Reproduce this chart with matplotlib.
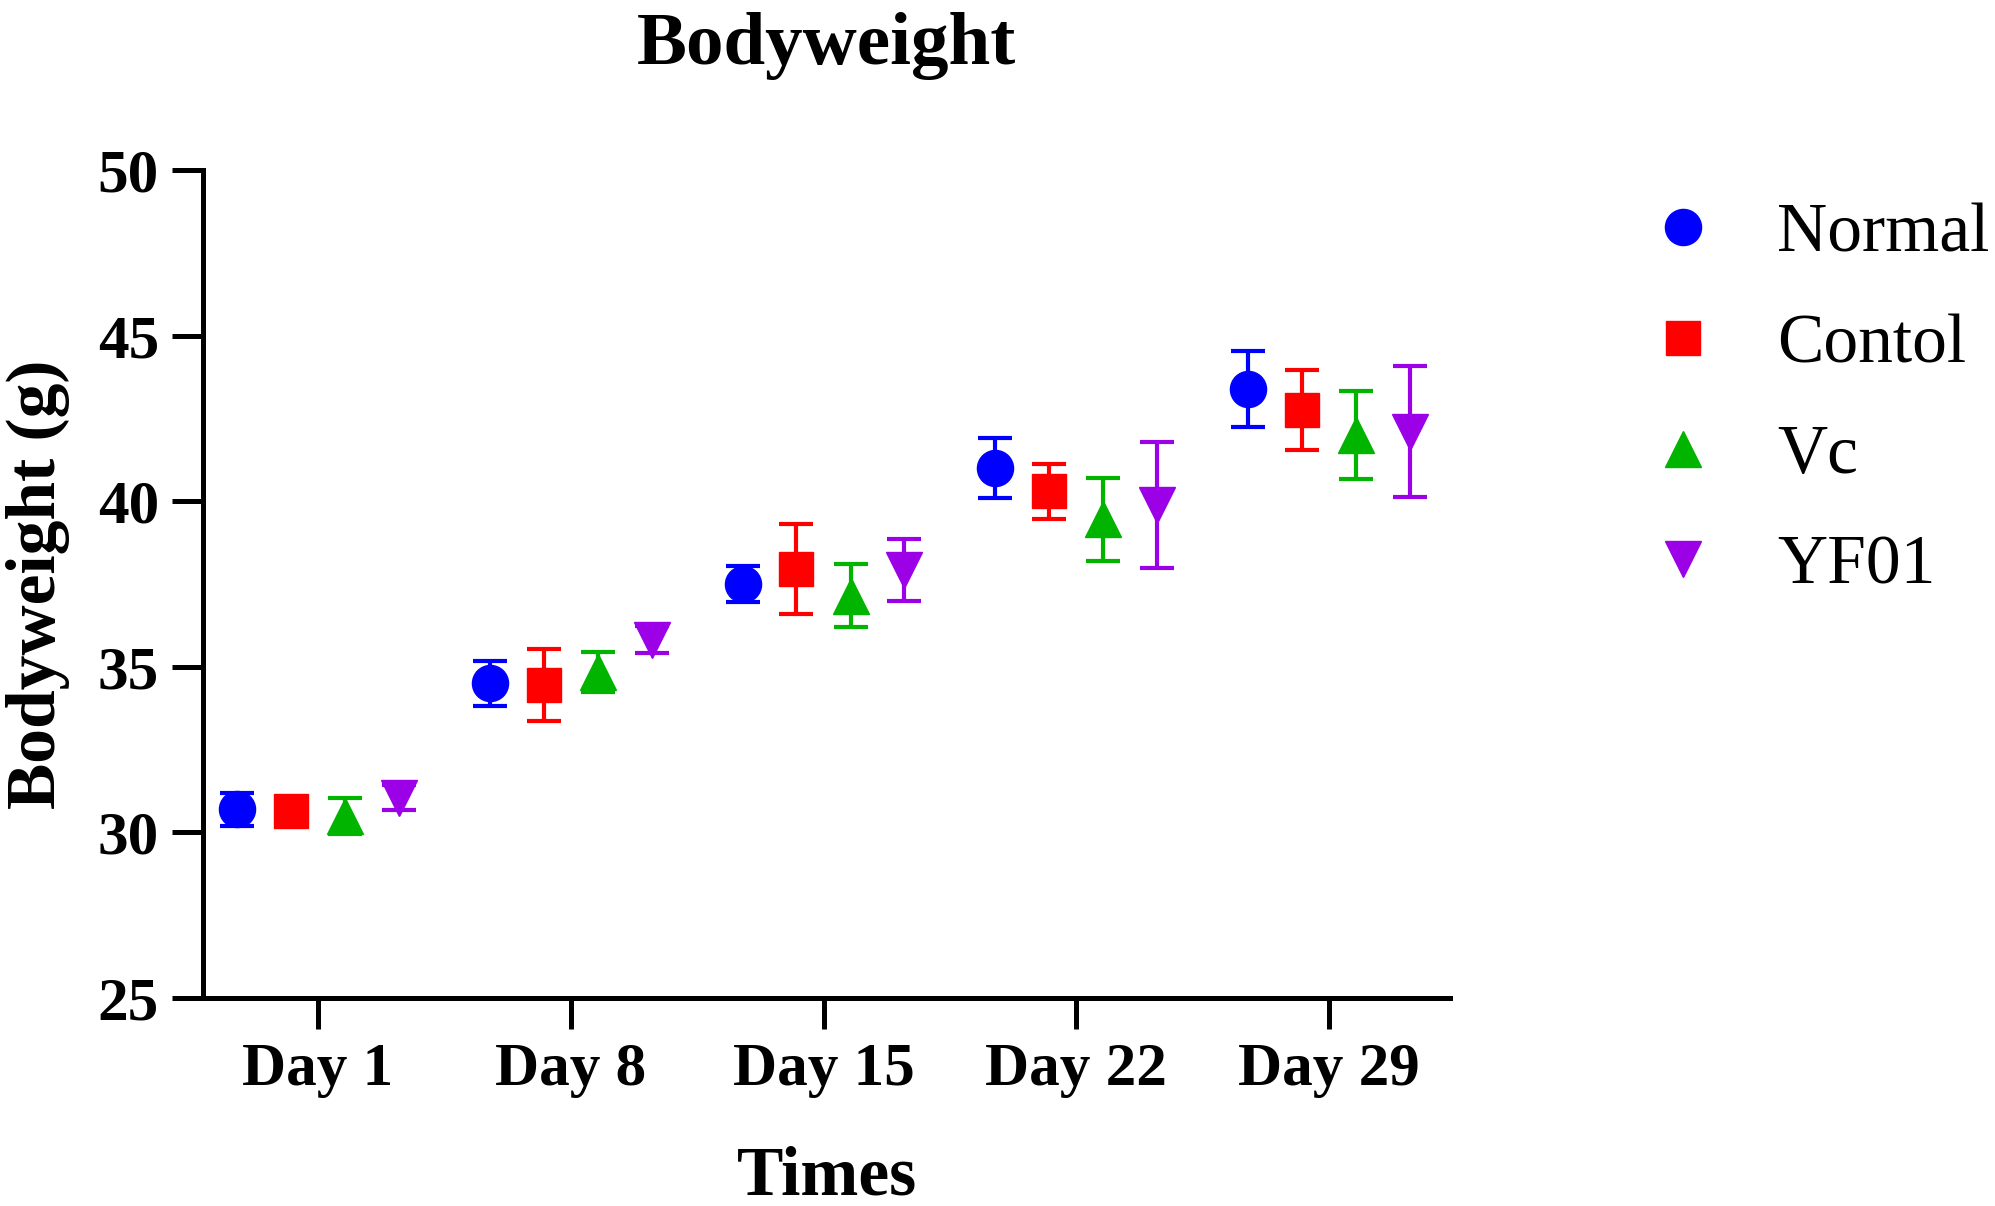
import numpy as np
import matplotlib
matplotlib.use("Agg")
from matplotlib import pyplot as plt
from matplotlib.lines import Line2D

plt.rcParams['font.family'] = ['Liberation Serif', 'DejaVu Serif']

# Data (mean and error)
days = ['Day 1', 'Day 8', 'Day 15', 'Day 22', 'Day 29']
groups = ['Normal', 'Contol', 'Vc', 'YF01']

normal_mean = [30.7, 34.5, 37.5, 41.0, 43.4]
normal_err = [0.5, 0.68, 0.55, 0.9, 1.15]
control_mean = [30.65, 34.45, 37.95, 40.3, 42.75]
control_err = [0.3, 1.1, 1.35, 0.83, 1.2]
vc_mean = [30.5, 34.85, 37.15, 39.45, 42.0]
vc_err = [0.55, 0.6, 0.95, 1.25, 1.32]
yf01_mean = [31.05, 35.82, 37.93, 39.88, 42.1]
yf01_err = [0.38, 0.4, 0.93, 1.9, 1.97]

means = [normal_mean, control_mean, vc_mean, yf01_mean]
errs = [normal_err, control_err, vc_err, yf01_err]
colors = ['#0000FF', '#FF0000', '#00B400', '#9B00E6']
markers = ['o', 's', '^', 'v']
msizes = [26, 24, 26, 26]
offsets = [-0.32, -0.107, 0.107, 0.32]

fig = plt.figure(figsize=(19.95, 12.06), dpi=100)
ax = fig.add_axes([0.102, 0.1725, 0.625, 0.6865])

x = np.arange(len(days))
for i in range(len(groups)):
    ax.errorbar(x + offsets[i], means[i], yerr=errs[i], fmt=markers[i],
                color=colors[i], markersize=msizes[i], elinewidth=3,
                capsize=12, capthick=3, linestyle='none')

# Axes styling
ax.set_xlim(-0.453, 4.48)
ax.set_ylim(25, 50)
ax.set_yticks([25, 30, 35, 40, 45, 50])
ax.set_xticks(x)
ax.set_xticklabels(days)
for side in ['top', 'right']:
    ax.spines[side].set_visible(False)
for side in ['left', 'bottom']:
    ax.spines[side].set_linewidth(3.6)
ax.tick_params(axis='both', direction='out', length=22, width=3.6, pad=10)
for lab in ax.get_yticklabels():
    lab.set_fontsize(44)
    lab.set_fontweight('bold')
for lab in ax.get_xticklabels():
    lab.set_fontsize(44)
    lab.set_fontweight('bold')

ax.set_xlabel('Times', fontsize=50, fontweight='bold', labelpad=34)
ax.set_ylabel('Bodyweight (g)', fontsize=50, fontweight='bold', labelpad=20)
ax.set_title('Bodyweight', fontsize=54, fontweight='bold', pad=76)

# Legend with markers only
handles = [Line2D([], [], marker=markers[i], color=colors[i], linestyle='none',
                  markersize=msizes[i]) for i in range(len(groups))]
fig.legend(handles, groups, loc='upper left', bbox_to_anchor=(0.8125, 0.855),
           frameon=False, fontsize=50, handlelength=1.0, handletextpad=0.85,
           labelspacing=0.68, borderaxespad=0)

fig.savefig('out.png', dpi=100)
